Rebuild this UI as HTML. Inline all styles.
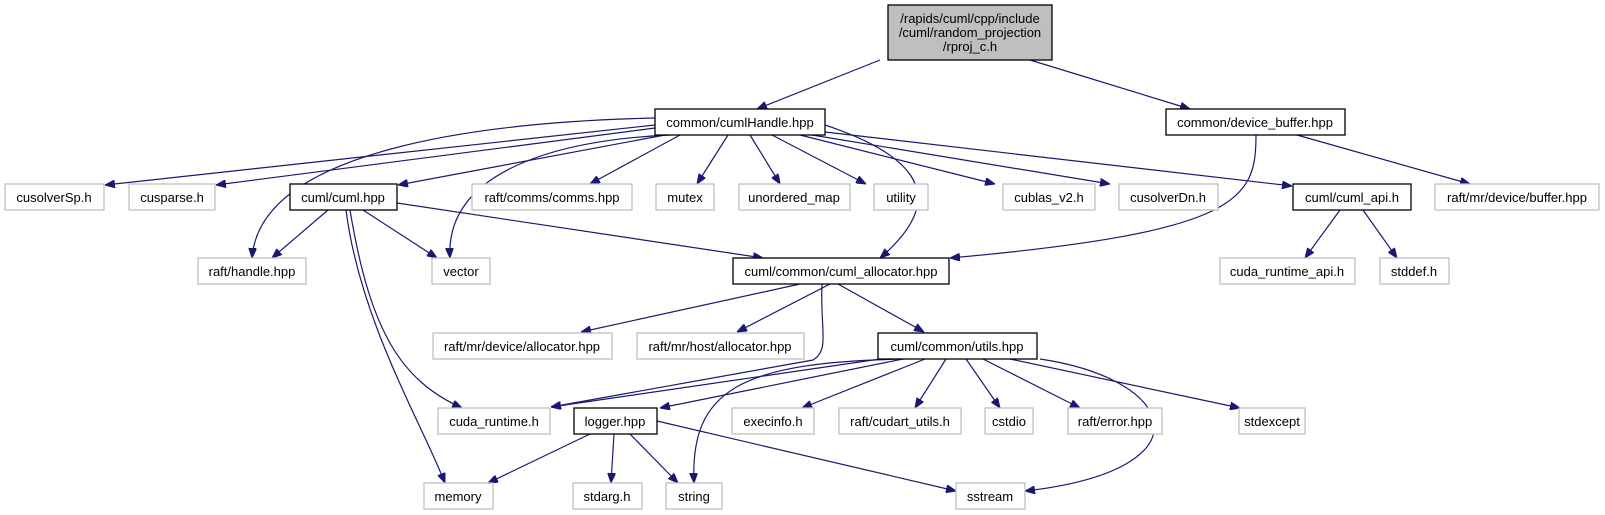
<!DOCTYPE html>
<html><head><meta charset="utf-8"><style>
html,body{margin:0;padding:0;background:#fff;}
svg{display:block;}
text{font-family:"Liberation Sans",Arial,sans-serif;font-size:13px;fill:#000;}
.g{fill:#fff;stroke:#bfbfbf;stroke-width:1.3;}
.b{fill:#fff;stroke:#000;stroke-width:1.3;}
.e{fill:none;stroke:#191970;stroke-width:1.2;}
</style></head><body>
<svg width="1605" height="515" viewBox="0 0 1605 515" xmlns="http://www.w3.org/2000/svg">
<defs><marker id="a" viewBox="0 0 10 8" refX="10" refY="4" markerWidth="10" markerHeight="8" markerUnits="userSpaceOnUse" orient="auto"><path d="M0,0 L10,4 L0,8 z" fill="#191970" stroke="#191970"/></marker></defs>
<g marker-end="url(#a)">
<path class="e" d="M880,60 L757,109"/>
<path class="e" d="M1030,60 L1190,109"/>
<path class="e" d="M655,125 L105,185"/>
<path class="e" d="M655,128 L216,185"/>
<path class="e" d="M665,135 L398,185"/>
<path class="e" d="M655,118 C480,122 260,150 252,258"/>
<path class="e" d="M670,135 C560,140 445,170 450,258"/>
<path class="e" d="M680,135 L590,184"/>
<path class="e" d="M728,135 L697,184"/>
<path class="e" d="M750,135 L780,184"/>
<path class="e" d="M772,135 L866,184"/>
<path class="e" d="M800,135 L995,184"/>
<path class="e" d="M812,135 L1110,184"/>
<path class="e" d="M825,132 L1292,186"/>
<path class="e" d="M825,125 C900,150 960,190 880,258"/>
<path class="e" d="M1256,135 C1256,200 1240,232 950,258"/>
<path class="e" d="M1297,135 L1470,184"/>
<path class="e" d="M1340,210 L1305,258"/>
<path class="e" d="M1363,210 L1397,258"/>
<path class="e" d="M328,210 L272,258"/>
<path class="e" d="M363,210 L437,258"/>
<path class="e" d="M397,203 L763,258"/>
<path class="e" d="M346,210 C360,320 420,420 445,483"/>
<path class="e" d="M350,210 C370,330 400,380 462,408"/>
<path class="e" d="M800,284 L581,332"/>
<path class="e" d="M830,284 L737,332"/>
<path class="e" d="M838,284 L924,332"/>
<path class="e" d="M822,284 C820,330 830,350 813,360 L551,407"/>
<path class="e" d="M880,359 L551,407"/>
<path class="e" d="M903,359 L660,408"/>
<path class="e" d="M905,359 C740,362 690,390 694,483"/>
<path class="e" d="M925,359 L802,408"/>
<path class="e" d="M946,359 L915,408"/>
<path class="e" d="M966,359 L1000,408"/>
<path class="e" d="M983,359 L1080,408"/>
<path class="e" d="M1010,359 L1240,408"/>
<path class="e" d="M1040,359 C1180,380 1210,470 1025,491"/>
<path class="e" d="M590,434 L488,483"/>
<path class="e" d="M614,434 L611,483"/>
<path class="e" d="M630,434 L678,483"/>
<path class="e" d="M657,421 L956,491"/>
</g>
<rect x="888" y="5" width="164" height="55" fill="#bfbfbf" stroke="#000" stroke-width="1.3"/>
<text x="970" y="23" text-anchor="middle">/rapids/cuml/cpp/include</text>
<text x="970" y="37" text-anchor="middle">/cuml/random_projection</text>
<text x="970" y="51" text-anchor="middle">/rproj_c.h</text>
<g text-anchor="middle">
<rect class="b" x="655" y="109" width="170" height="26"/><text x="740" y="127">common/cumlHandle.hpp</text>
<rect class="b" x="1166" y="109" width="179" height="26"/><text x="1255" y="127">common/device_buffer.hpp</text>
<rect class="g" x="5" y="184" width="99" height="26"/><text x="54" y="202">cusolverSp.h</text>
<rect class="g" x="129" y="184" width="86" height="26"/><text x="172" y="202">cusparse.h</text>
<rect class="b" x="290" y="184" width="107" height="26"/><text x="343" y="202">cuml/cuml.hpp</text>
<rect class="g" x="472" y="184" width="160" height="26"/><text x="552" y="202">raft/comms/comms.hpp</text>
<rect class="g" x="656" y="184" width="58" height="26"/><text x="685" y="202">mutex</text>
<rect class="g" x="739" y="184" width="111" height="26"/><text x="794" y="202">unordered_map</text>
<rect class="g" x="874" y="184" width="54" height="26"/><text x="901" y="202">utility</text>
<rect class="g" x="1003" y="184" width="92" height="26"/><text x="1049" y="202">cublas_v2.h</text>
<rect class="g" x="1119" y="184" width="99" height="26"/><text x="1168" y="202">cusolverDn.h</text>
<rect class="b" x="1293" y="184" width="118" height="26"/><text x="1352" y="202">cuml/cuml_api.h</text>
<rect class="g" x="1435" y="184" width="164" height="26"/><text x="1517" y="202">raft/mr/device/buffer.hpp</text>
<rect class="g" x="198" y="258" width="108" height="26"/><text x="252" y="276">raft/handle.hpp</text>
<rect class="g" x="432" y="258" width="58" height="26"/><text x="461" y="276">vector</text>
<rect class="b" x="733" y="258" width="216" height="26"/><text x="841" y="276">cuml/common/cuml_allocator.hpp</text>
<rect class="g" x="1220" y="258" width="135" height="26"/><text x="1287" y="276">cuda_runtime_api.h</text>
<rect class="g" x="1380" y="258" width="69" height="26"/><text x="1414" y="276">stddef.h</text>
<rect class="g" x="433" y="333" width="179" height="26"/><text x="522" y="351">raft/mr/device/allocator.hpp</text>
<rect class="g" x="637" y="333" width="167" height="26"/><text x="720" y="351">raft/mr/host/allocator.hpp</text>
<rect class="b" x="878" y="333" width="159" height="26"/><text x="957" y="351">cuml/common/utils.hpp</text>
<rect class="g" x="438" y="408" width="112" height="26"/><text x="494" y="426">cuda_runtime.h</text>
<rect class="b" x="574" y="408" width="83" height="26"/><text x="615" y="426">logger.hpp</text>
<rect class="g" x="732" y="408" width="82" height="26"/><text x="773" y="426">execinfo.h</text>
<rect class="g" x="839" y="408" width="122" height="26"/><text x="900" y="426">raft/cudart_utils.h</text>
<rect class="g" x="985" y="408" width="48" height="26"/><text x="1009" y="426">cstdio</text>
<rect class="g" x="1068" y="408" width="94" height="26"/><text x="1115" y="426">raft/error.hpp</text>
<rect class="g" x="1239" y="408" width="66" height="26"/><text x="1272" y="426">stdexcept</text>
<rect class="g" x="424" y="483" width="69" height="26"/><text x="458" y="501">memory</text>
<rect class="g" x="573" y="483" width="69" height="26"/><text x="607" y="501">stdarg.h</text>
<rect class="g" x="666" y="483" width="56" height="26"/><text x="694" y="501">string</text>
<rect class="g" x="956" y="483" width="69" height="26"/><text x="990" y="501">sstream</text>
</g>
</svg>
</body></html>
